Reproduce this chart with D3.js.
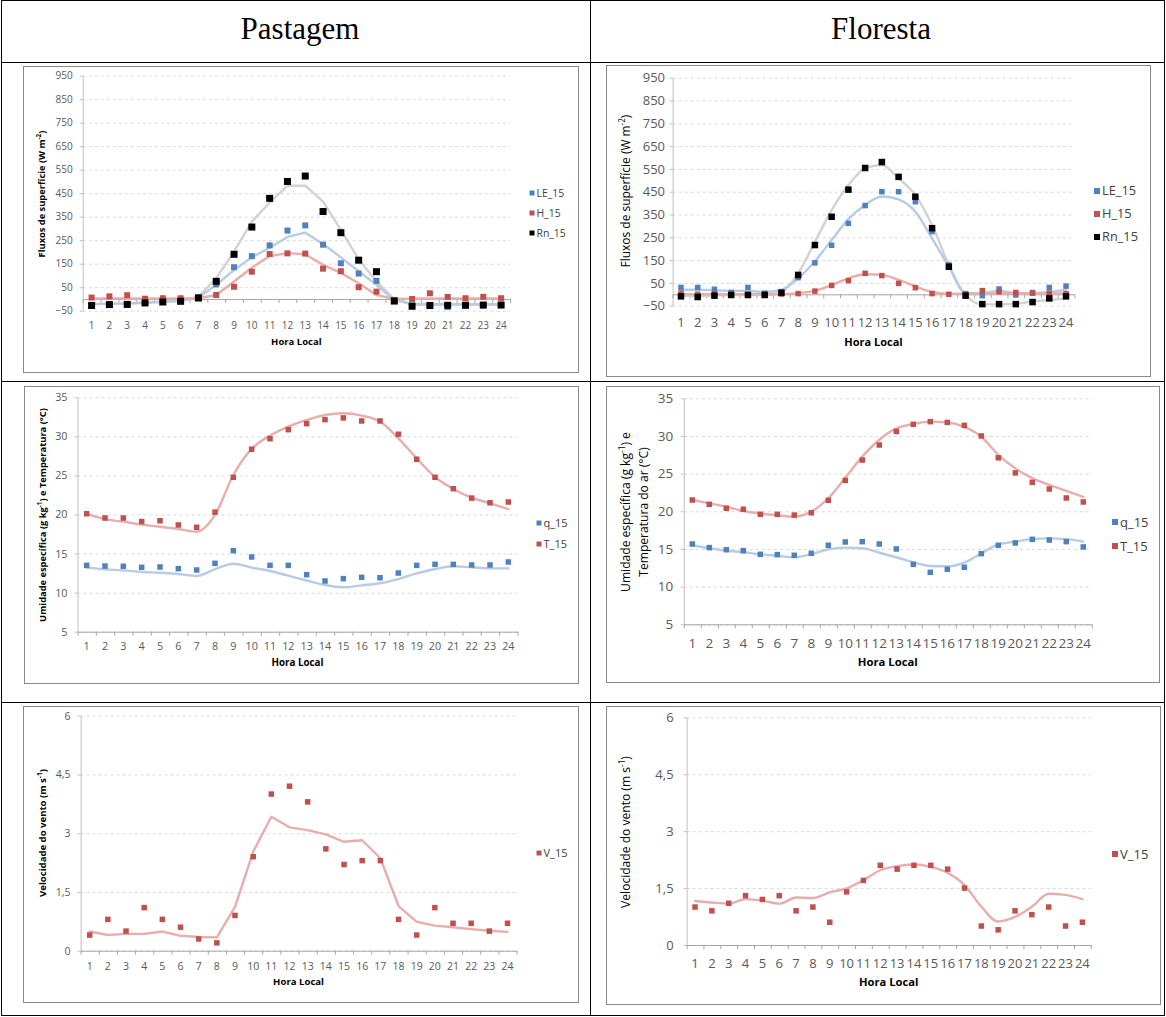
<!DOCTYPE html>
<html>
<head>
<meta charset="utf-8">
<script src="https://cdn.jsdelivr.net/npm/d3@7"></script>
<style>
  body { margin: 0; background: #fff; }
  svg { display: block; }
</style>
</head>
<body>
<svg id="fig" width="1166" height="1017"></svg>
<script>
// ---- Dados ----
const horas = ["1","2","3","4","5","6","7","8","9","10","11","12","13","14","15","16","17","18","19","20","21","22","23","24"];

const ticksFluxo = [-50, 50, 150, 250, 350, 450, 550, 650, 750, 850, 950];
const ticksQT = [5, 10, 15, 20, 25, 30, 35];
const ticksVento = [0, 1.5, 3, 4.5, 6];

// Pastagem - fluxos de superfície (W m-2)
const pastLE = [-25,-24,-25,-17,-12,-8,8,62,135,182,228,291,313,231,152,108,77,-8,-28,-27,-34,-27,-27,-26];
const pastH  = [6,11,16,1,3,3,4,17,52,116,191,194,193,129,118,50,31,-4,0,24,9,3,9,3];
const pastRn = [-28,-24,-23,-17,-13,-10,4,75,190,306,428,500,523,372,282,165,116,-9,-31,-28,-27,-27,-26,-26];
const pastLELinha = [-22,-21,-20,-16,-12,-8,5,60,123,177,218,264,282,234,177,118,60,-5,-20,-22,-22,-22,-22,-22];
const pastHLinha  = [2,2,2,2,2,2,3,17,74,133,183,195,190,145,111,67,17,0,1,2,2,2,2,2];
const pastRnLinha = [-22,-20,-18,-15,-12,-8,10,88,201,329,410,482,482,414,294,169,74,-1,-25,-25,-25,-25,-25,-25];

// Floresta - fluxos de superfície (W m-2)
const florLE = [30,30,22,8,30,5,10,73,138,215,311,389,450,450,406,275,129,3,-6,23,-3,8,30,36];
const florH  = [5,0,0,0,0,0,1,3,14,39,60,92,82,48,29,3,0,0,16,11,8,5,5,3];
const florRn = [-9,-12,-6,-3,-3,-3,7,85,216,340,459,554,580,515,428,290,121,-6,-43,-43,-43,-34,-18,-9];
const florLELinha = [20,20,18,15,15,10,20,70,145,238,330,392,429,416,362,245,121,5,5,15,5,5,10,20];
const florHLinha  = [0,0,0,0,0,0,0,5,15,40,70,88,85,63,35,10,3,3,3,5,5,3,3,5];
const florRnLinha = [-5,-8,-5,-3,-3,-3,10,92,230,369,479,552,567,508,435,304,129,-3,-44,-44,-41,-32,-25,-18];

// Pastagem - umidade específica (g kg-1) e temperatura (°C)
const pastQ = [13.49,13.4,13.37,13.24,13.28,13.07,12.9,13.75,15.37,14.56,13.49,13.49,12.3,11.49,11.79,11.96,11.91,12.51,13.49,13.62,13.62,13.54,13.54,13.92];
const pastT = [20.1,19.55,19.55,19.1,19.2,18.66,18.36,20.3,24.76,28.35,29.7,30.86,31.63,32.14,32.36,31.97,31.97,30.27,27.07,24.76,23.3,22.1,21.5,21.6];
const pastQLinha = [13.2,12.98,12.85,12.64,12.55,12.38,12.13,13.0,13.7,13.2,12.77,12.17,11.55,10.97,10.68,10.93,11.2,11.74,12.47,13.02,13.37,13.24,13.1,13.1];
const pastTLinha = [20.1,19.4,19.08,18.7,18.44,18.15,17.8,19.94,25.06,28.4,30.1,31.25,32.1,32.74,32.95,32.66,31.9,29.75,27.2,24.8,23.27,22.15,21.43,20.7];

// Floresta - umidade específica (g kg-1) e temperatura do ar (°C)
const florQ = [15.66,15.18,14.9,14.78,14.29,14.25,14.16,14.42,15.49,15.93,15.97,15.66,15.0,12.96,11.9,12.3,12.57,14.38,15.49,15.8,16.28,16.19,15.97,15.27];
const florT = [21.5,20.93,20.4,20.27,19.6,19.6,19.5,19.8,21.46,24.1,26.8,28.8,30.6,31.55,31.9,31.8,31.4,30.0,27.1,25.1,23.85,22.96,21.77,21.24];
const florQLinha = [15.5,15.1,14.8,14.56,14.3,14.1,13.9,14.3,14.96,15.18,15.1,14.5,13.9,13.23,12.74,12.7,13.2,14.4,15.6,15.97,16.3,16.4,16.3,15.97];
const florTLinha = [21.5,21.06,20.6,20.04,19.7,19.47,19.3,19.96,21.73,24.47,27.26,29.5,31.0,31.6,31.9,31.8,31.2,29.9,27.5,25.7,24.4,23.5,22.7,21.9];

// Velocidade do vento (m s-1)
const pastV = [0.4,0.8,0.5,1.1,0.8,0.6,0.3,0.2,0.9,2.4,4.0,4.2,3.8,2.6,2.2,2.3,2.3,0.8,0.4,1.1,0.7,0.7,0.5,0.7];
const pastVLinha = [0.49,0.4,0.43,0.43,0.49,0.38,0.35,0.34,1.12,2.53,3.42,3.15,3.08,2.97,2.78,2.82,2.36,1.14,0.74,0.64,0.6,0.55,0.51,0.48];
const florV = [1.0,0.9,1.1,1.3,1.2,1.3,0.9,1.0,0.6,1.4,1.7,2.1,2.0,2.1,2.1,2.0,1.5,0.5,0.4,0.9,0.8,1.0,0.5,0.6];
const florVLinha = [1.16,1.12,1.09,1.21,1.17,1.09,1.25,1.24,1.39,1.49,1.71,1.97,2.08,2.12,2.06,1.9,1.58,1.01,0.62,0.74,1.01,1.35,1.32,1.21];

// ---- Estilo ----
const AZUL = "#4F81BD", VERMELHO = "#C0504D", PRETO = "#000000";
const AZUL_CLARO = "#B7CBE5", ROSA = "#E8AEAC", CINZA = "#D2D2D2";
const FONTE = "'Open Sans', 'Liberation Sans', sans-serif";
const fmtInt = d3.format("d");
const fmtVirgula = d3.formatLocale({decimal: ",", thousands: ".", grouping: [3], currency: ["R$", ""]}).format(".1~f");

const svg = d3.select("#fig");

// ---- Tabela ----
const tabela = svg.append("g").attr("stroke", "#000").attr("stroke-width", 1).attr("fill", "none");
tabela.append("rect").attr("x", 1.5).attr("y", 0.5).attr("width", 1163).attr("height", 1015);
[62.5, 381.5, 702.5].forEach(yy => tabela.append("line").attr("x1", 1.5).attr("x2", 1164.5).attr("y1", yy).attr("y2", yy));
tabela.append("line").attr("x1", 590.5).attr("x2", 590.5).attr("y1", 0.5).attr("y2", 1015.5);

[["Pastagem", 300], ["Floresta", 881]].forEach(([t, cx]) => {
  svg.append("text").attr("x", cx).attr("y", 39).attr("text-anchor", "middle")
    .attr("font-family", "'Liberation Serif', 'Times New Roman', serif").attr("font-size", 31)
    .attr("fill", "#000").text(t);
});

// ---- Painéis ----
// Preenche um texto com trechos normais e sobrescritos (marcados como ^{...})
function preencher(t, partes, fs) {
  t.selectAll("tspan").remove();
  t.attr("font-size", fs);
  let volta = 0;
  partes.split(/(\^\{[^}]*\})/).filter(s => s.length).forEach(s => {
    if (s.startsWith("^{")) {
      t.append("tspan").attr("font-size", fs * 0.68).attr("dy", -fs * 0.38).text(s.slice(2, -1));
      volta = fs * 0.38;
    } else {
      const ts = t.append("tspan").text(s);
      if (volta) { ts.attr("dy", volta); volta = 0; }
    }
  });
}

// Título vertical ajustado ao comprimento desejado
function tituloY(g, linhas, fsBase, peso, comprimento) {
  const textos = linhas.map(tl => g.append("text")
    .attr("transform", `translate(${tl.cx},${tl.cy}) rotate(-90)`)
    .attr("text-anchor", "middle").attr("font-family", FONTE)
    .attr("font-weight", peso).attr("fill", "#000"));
  preencher(textos[0], linhas[0].texto, fsBase);
  const fs = fsBase * comprimento / textos[0].node().getComputedTextLength();
  textos.forEach((t, i) => preencher(t, linhas[i].texto, fs));
}

function painel(p) {
  const g = svg.append("g");
  g.append("rect").attr("x", p.box[0] + 0.5).attr("y", p.box[1] + 0.5)
    .attr("width", p.box[2]).attr("height", p.box[3])
    .attr("fill", "#fff").attr("stroke", "#898989").attr("stroke-width", 1);

  const x = d3.scaleBand().domain(horas).range([p.x0, p.x1]);
  const xb = d3.scaleLinear().domain([0, horas.length]).range([p.x0, p.x1]);
  const y = d3.scaleLinear().domain(p.dom).range([p.yBot, p.yTop]);
  const cxh = i => x(horas[i]) + x.bandwidth() / 2;

  // linhas de grade
  g.append("g").attr("transform", `translate(${p.x0},0)`)
    .call(d3.axisLeft(y).tickValues(p.ticks).tickSize(-(p.x1 - p.x0)).tickFormat(""))
    .call(a => {
      a.select(".domain").remove();
      a.selectAll(".tick line").attr("stroke", "#D9D9D9").attr("stroke-dasharray", "3,3");
    });

  // eixo vertical
  g.append("g").attr("transform", `translate(${p.x0},0)`)
    .call(d3.axisLeft(y).tickValues(p.ticks).tickSize(3).tickSizeOuter(0)
      .tickPadding(p.yPad).tickFormat(p.fmt))
    .call(a => {
      a.attr("font-family", FONTE).attr("font-size", p.fsTick);
      a.select(".domain").attr("stroke", "#BFBFBF");
      a.selectAll(".tick line").attr("stroke", "#BFBFBF");
      a.selectAll("text").attr("fill", "#595959");
    });

  // eixo horizontal com marcas entre as categorias
  g.append("g").attr("transform", `translate(0,${y(p.eixoEm)})`)
    .call(d3.axisBottom(xb).tickValues(d3.range(0, horas.length + 1)).tickSize(4).tickSizeOuter(0).tickFormat(""))
    .call(a => {
      a.select(".domain").attr("stroke", "#A6A6A6");
      a.selectAll(".tick line").attr("stroke", "#A6A6A6");
    });

  // rótulos das horas
  g.append("g").attr("transform", `translate(0,${p.xLabY})`)
    .call(d3.axisBottom(x).tickSize(0).tickPadding(0))
    .call(a => {
      a.attr("font-family", FONTE).attr("font-size", p.fsTick);
      a.select(".domain").remove();
      a.selectAll("text").attr("y", 0).attr("dy", "0.35em").attr("fill", "#595959");
    });

  // título do eixo x
  g.append("text").attr("x", (p.x0 + p.x1) / 2).attr("y", p.horaY).attr("dy", "0.35em")
    .attr("text-anchor", "middle").attr("font-family", FONTE).attr("font-weight", "bold")
    .attr("font-size", p.fsHora).attr("fill", "#000").text("Hora Local");

  // título do eixo y
  tituloY(g, p.tituloY, p.fsTitulo, p.pesoTitulo, p.compTitulo);

  // linhas suavizadas
  const linha = d3.line().x((d, i) => cxh(i)).y(d => y(d)).curve(p.curva);
  p.linhas.forEach(s => {
    g.append("path").datum(s.dados).attr("d", linha).attr("fill", "none")
      .attr("stroke", s.cor).attr("stroke-width", 2.4)
      .attr("stroke-linejoin", "round").attr("stroke-linecap", "round");
  });

  // marcadores
  p.series.forEach(s => {
    g.append("g").selectAll("rect").data(s.dados).join("rect")
      .attr("x", (d, i) => cxh(i) - s.tam / 2).attr("y", d => y(d) - s.tam / 2)
      .attr("width", s.tam).attr("height", s.tam).attr("fill", s.cor);
  });

  // legenda
  p.series.forEach((s, i) => {
    const ly = p.legY[i];
    g.append("rect").attr("x", p.legX - p.legTam / 2).attr("y", ly - p.legTam / 2)
      .attr("width", p.legTam).attr("height", p.legTam).attr("fill", s.cor);
    g.append("text").attr("x", p.legX + p.legTam / 2 + 2).attr("y", ly).attr("dy", "0.35em")
      .attr("font-family", FONTE).attr("font-size", p.fsLeg).attr("fill", "#404040").text(s.nome);
  });
}

const TITULO_FLUXO = "Fluxos de superfície (W m^{-2})";
const TITULO_VENTO = "Velocidade do vento (m s^{-1})";

painel({
  box: [23, 66, 555, 306], x0: 82.7, x1: 510, yTop: 75.7, yBot: 310.7,
  dom: [-50, 950], ticks: ticksFluxo, fmt: fmtInt, eixoEm: 0, yPad: 7, xLabY: 325,
  fsTick: 10, fsHora: 9.5, horaY: 342, fsTitulo: 9, pesoTitulo: "bold", compTitulo: 127,
  tituloY: [{texto: TITULO_FLUXO, cx: 45, cy: 194}],
  curva: d3.curveLinear,
  linhas: [{dados: pastRnLinha, cor: CINZA}, {dados: pastLELinha, cor: AZUL_CLARO}, {dados: pastHLinha, cor: ROSA}],
  series: [{nome: "LE_15", dados: pastLE, cor: AZUL, tam: 6}, {nome: "H_15", dados: pastH, cor: VERMELHO, tam: 6}, {nome: "Rn_15", dados: pastRn, cor: PRETO, tam: 7}],
  legX: 532, legY: [193, 213, 233], legTam: 5, fsLeg: 10.4
});

painel({
  box: [606, 65, 544, 311], x0: 672.6, x1: 1074.4, yTop: 77.7, yBot: 305.7,
  dom: [-50, 950], ticks: ticksFluxo, fmt: fmtInt, eixoEm: 0, yPad: 4.6, xLabY: 322,
  fsTick: 13, fsHora: 11, horaY: 342, fsTitulo: 11, pesoTitulo: "normal", compTitulo: 153,
  tituloY: [{texto: TITULO_FLUXO, cx: 630, cy: 191}],
  curva: d3.curveMonotoneX,
  linhas: [{dados: florRnLinha, cor: CINZA}, {dados: florLELinha, cor: AZUL_CLARO}, {dados: florHLinha, cor: ROSA}],
  series: [{nome: "LE_15", dados: florLE, cor: AZUL, tam: 5.5}, {nome: "H_15", dados: florH, cor: VERMELHO, tam: 5.5}, {nome: "Rn_15", dados: florRn, cor: PRETO, tam: 6.5}],
  legX: 1097, legY: [191, 214, 237], legTam: 6, fsLeg: 12.8
});

painel({
  box: [24, 386, 554, 297], x0: 77.5, x1: 517.5, yTop: 397.3, yBot: 631.7,
  dom: [5, 35], ticks: ticksQT, fmt: fmtInt, eixoEm: 5, yPad: 7, xLabY: 646,
  fsTick: 10.8, fsHora: 9.8, horaY: 663, fsTitulo: 9, pesoTitulo: "bold", compTitulo: 214,
  tituloY: [{texto: "Umidade específica (g kg^{-1}) e Temperatura (°C)", cx: 46, cy: 515}],
  curva: d3.curveMonotoneX,
  linhas: [{dados: pastQLinha, cor: AZUL_CLARO}, {dados: pastTLinha, cor: ROSA}],
  series: [{nome: "q_15", dados: pastQ, cor: AZUL, tam: 5.5}, {nome: "T_15", dados: pastT, cor: VERMELHO, tam: 5.5}],
  legX: 539, legY: [523, 544], legTam: 5, fsLeg: 11
});

painel({
  box: [606, 386, 553, 296], x0: 683.8, x1: 1091.8, yTop: 398.3, yBot: 624.3,
  dom: [5, 35], ticks: ticksQT, fmt: fmtInt, eixoEm: 5, yPad: 7.5, xLabY: 643,
  fsTick: 13.5, fsHora: 11.3, horaY: 662, fsTitulo: 11, pesoTitulo: "normal", compTitulo: 160,
  tituloY: [{texto: "Umidade específica (g kg^{-1}) e", cx: 630, cy: 512}, {texto: "Temperatura do ar (°C)", cx: 648, cy: 512}],
  curva: d3.curveMonotoneX,
  linhas: [{dados: florQLinha, cor: AZUL_CLARO}, {dados: florTLinha, cor: ROSA}],
  series: [{nome: "q_15", dados: florQ, cor: AZUL, tam: 5.5}, {nome: "T_15", dados: florT, cor: VERMELHO, tam: 5.5}],
  legX: 1115, legY: [522, 546], legTam: 6, fsLeg: 13
});

painel({
  box: [23, 706, 555, 296], x0: 80.6, x1: 516.6, yTop: 715.7, yBot: 950.7,
  dom: [0, 6], ticks: ticksVento, fmt: fmtVirgula, eixoEm: 0, yPad: 7, xLabY: 966,
  fsTick: 10.5, fsHora: 9.6, horaY: 982, fsTitulo: 9, pesoTitulo: "bold", compTitulo: 128,
  tituloY: [{texto: TITULO_VENTO, cx: 46, cy: 833}],
  curva: d3.curveLinear,
  linhas: [{dados: pastVLinha, cor: ROSA}],
  series: [{nome: "V_15", dados: pastV, cor: VERMELHO, tam: 5.5}],
  legX: 539, legY: [853], legTam: 5, fsLeg: 11
});

painel({
  box: [606, 706, 554, 298], x0: 686.6, x1: 1090.8, yTop: 717.3, yBot: 945,
  dom: [0, 6], ticks: ticksVento, fmt: fmtVirgula, eixoEm: 0, yPad: 10, xLabY: 963,
  fsTick: 13, fsHora: 11.2, horaY: 982, fsTitulo: 11, pesoTitulo: "normal", compTitulo: 152,
  tituloY: [{texto: TITULO_VENTO, cx: 630, cy: 832}],
  curva: d3.curveMonotoneX,
  linhas: [{dados: florVLinha, cor: ROSA}],
  series: [{nome: "V_15", dados: florV, cor: VERMELHO, tam: 5.5}],
  legX: 1115, legY: [854], legTam: 6, fsLeg: 13
});
</script>
</body>
</html>
